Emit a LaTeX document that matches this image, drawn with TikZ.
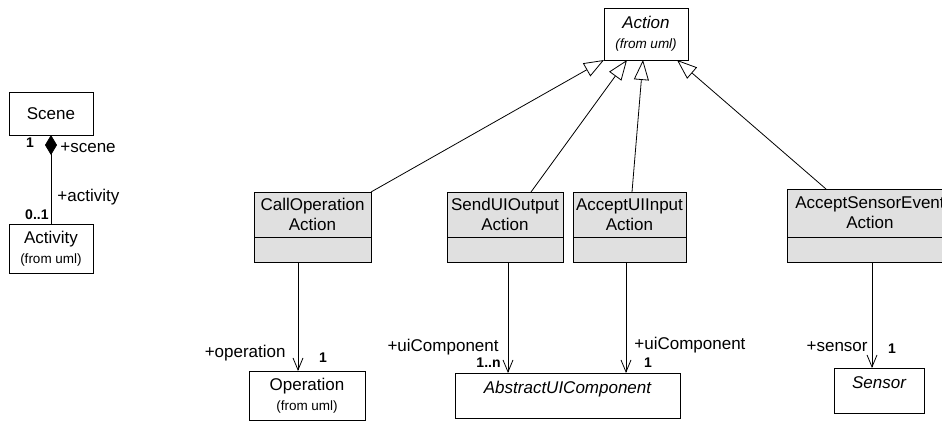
\documentclass[tikz,border=0pt]{standalone}
\usepackage{fontspec}
\setmainfont{Liberation Sans}
\usepackage{tikz}
\usetikzlibrary{positioning,arrows.meta}

\definecolor{classgray}{HTML}{E0E0E0}

\tikzset{
    classname/.style={draw, fill=classgray, align=center, inner sep=0pt, outer sep=0pt, font=\fontsize{17}{20}\selectfont},
    classbody/.style={draw, fill=classgray, inner sep=0pt, outer sep=0pt, minimum height=25pt},
    plainclass/.style={draw, fill=white, align=center, inner sep=0pt, outer sep=0pt, font=\fontsize{17}{20}\selectfont},
    abstractclass/.style={plainclass, font=\fontsize{17}{20}\itshape\selectfont},
    role/.style={inner sep=0pt, font=\fontsize{17}{20}\selectfont},
    mult/.style={inner sep=0pt, font=\fontsize{14}{16}\bfseries\selectfont},
    inherit/.style={-{Triangle[open, length=20pt, width=15pt]}},
    assoc/.style={-{Straight Barb[length=12pt, width=10pt]}},
}

\newcommand{\fromuml}{{\fontsize{13.5}{16}\selectfont (from uml)}}

\begin{document}
\begin{tikzpicture}[x=1pt, y=-1pt, line width=0.8pt]

    \useasboundingbox (0,0) rectangle (942,421);

    % Scene and Activity (left)
    \node[plainclass, minimum width=84pt, minimum height=43pt] (scene) at (51,113.5) {Scene};
    \node[plainclass, minimum width=84pt, minimum height=49pt] (activity) at (51,248.5) {Activity\\\fromuml};

    \draw[{Diamond[length=20pt, width=12pt]}-] (scene) -- (activity);

    \node[mult] (sceneM) at (30,143) {1};
    \node[role, anchor=west] (sceneR) at (60,148) {+scene};
    \node[role, anchor=west] (activityR) at (57,197) {+activity};
    \node[mult, anchor=east] (activityM) at (49,215) {0..1};

    % Action (top)
    \node[abstractclass, minimum width=84pt, minimum height=52pt] (action) at (646,34) {Action\\\fromuml};

    % The four actions
    \node[classname, minimum width=117pt, minimum height=45pt] (callop) at (312.5,214.5) {CallOperation\\Action};
    \node[classbody, minimum width=117pt, below=0pt of callop] (callopBody) {};

    \node[classname, minimum width=116pt, minimum height=45pt] (sendout) at (505,214.5) {SendUIOutput\\Action};
    \node[classbody, minimum width=116pt, below=0pt of sendout] (sendoutBody) {};

    \node[classname, minimum width=113pt, minimum height=45pt] (acceptin) at (629.5,214.5) {AcceptUIInput\\Action};
    \node[classbody, minimum width=113pt, below=0pt of acceptin] (acceptinBody) {};

    \node[classname, minimum width=166pt, minimum height=48pt] (acceptsen) at (870,213) {AcceptSensorEvent\\Action};
    \node[classbody, minimum width=166pt, below=0pt of acceptsen] (acceptsenBody) {};

    \draw[inherit] (callop.north east) -- (action.south west);
    \draw[inherit] ([xshift=26pt]sendout.north) -- ([xshift=-19pt]action.south);
    \draw[inherit] ([xshift=2.5pt]acceptin.north) -- ([xshift=-3pt]action.south);
    \draw[inherit] ([xshift=-44pt]acceptsen.north) -- ([xshift=31pt]action.south);

    % Targets (bottom)
    \node[plainclass, minimum width=116pt, minimum height=49pt] (operation) at (307,395.5) {Operation\\\fromuml};
    \node[abstractclass, minimum width=225pt, minimum height=45pt, text depth=16pt] (uicomp) at (567.5,395.5) {AbstractUIComponent};
    \node[abstractclass, minimum width=90pt, minimum height=45pt, text depth=16pt] (sensor) at (879,390.5) {Sensor};

    \draw[assoc] ([xshift=-14.5pt]callopBody.south) -- ([xshift=-14.5pt]callopBody.south |- operation.north);
    \draw[assoc] ([xshift=3pt]sendoutBody.south) -- ([xshift=3pt]sendoutBody.south |- uicomp.north);
    \draw[assoc] ([xshift=-3.5pt]acceptinBody.south) -- ([xshift=-3.5pt]acceptinBody.south |- uicomp.north);
    \draw[assoc] ([xshift=2pt]acceptsenBody.south) -- ([xshift=2pt]acceptsenBody.south |- sensor.north);

    \node[role, anchor=east] (operationR) at (286,353) {+operation};
    \node[mult] (operationM) at (323,358) {1};
    \node[role, anchor=east] (sendoutR) at (499,347) {+uiComponent};
    \node[mult, anchor=east] (sendoutM) at (501,363) {1..n};
    \node[role, anchor=west] (acceptinR) at (634,345) {+uiComponent};
    \node[mult] (acceptinM) at (648,363) {1};
    \node[role, anchor=east] (sensorR) at (868,347) {+sensor};
    \node[mult] (sensorM) at (892,349) {1};

\end{tikzpicture}
\end{document}
